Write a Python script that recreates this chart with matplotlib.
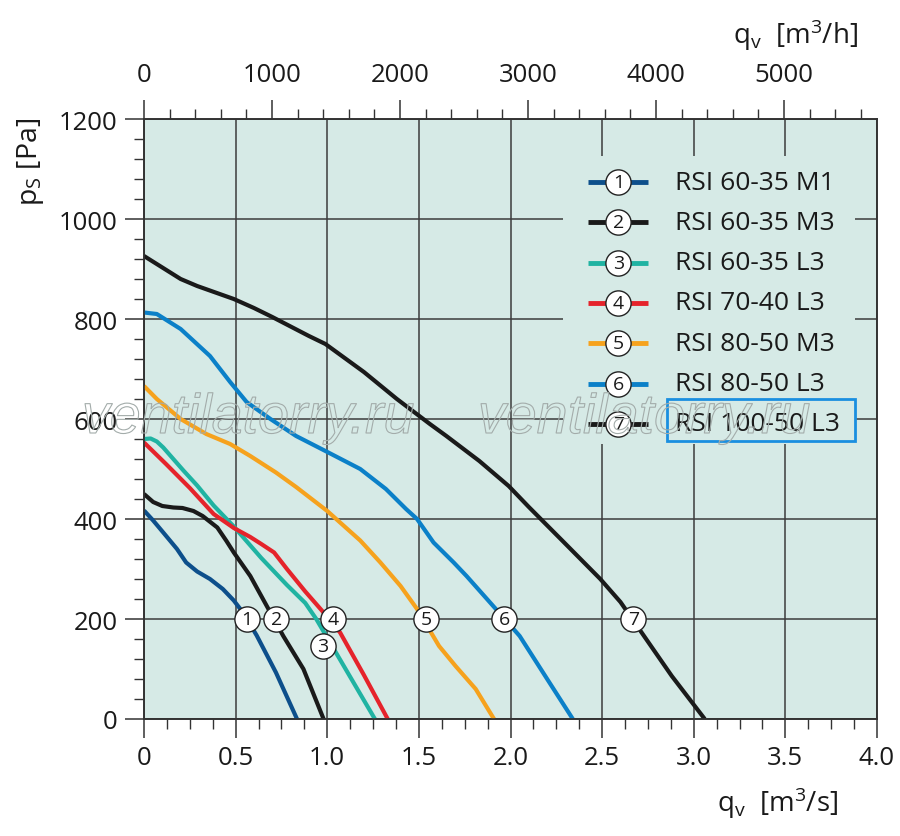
import matplotlib
matplotlib.use("Agg")
import matplotlib.pyplot as plt
import matplotlib.ticker as ticker
import matplotlib.patheffects as pe
from matplotlib.patches import Rectangle

plt.rcParams["font.family"] = ["Open Sans", "DejaVu Sans"]
plt.rcParams["mathtext.default"] = "regular"

# q_v [m3/s] -> p_s [Pa]
q1 = [0, 0.05, 0.105, 0.18, 0.23, 0.29, 0.36, 0.43, 0.49, 0.54, 0.615, 0.72, 0.835]
p1 = [417, 397, 373, 340, 313, 295, 280, 260, 237, 213, 167, 93, 0]

q2 = [0, 0.05, 0.10, 0.16, 0.21, 0.27, 0.32, 0.40, 0.45, 0.49, 0.58, 0.67, 0.76, 0.87, 0.98]
p2 = [450, 434, 426, 423, 422, 416, 406, 383, 356, 333, 286, 226, 166, 100, 0]

q3 = [0, 0.036, 0.07, 0.105, 0.16, 0.215, 0.29, 0.38, 0.49, 0.64, 0.78, 0.88, 0.94, 1.02, 1.10, 1.18, 1.26]
p3 = [560, 561, 555, 543, 520, 497, 467, 427, 385, 322, 268, 232, 200, 150, 100, 50, 0]

q4 = [0, 0.12, 0.25, 0.38, 0.49, 0.58, 0.64, 0.71, 0.78, 0.88, 0.98, 1.07, 1.20, 1.33]
p4 = [553, 510, 462, 410, 382, 364, 350, 333, 300, 255, 213, 173, 88, 0]

q5 = [0, 0.07, 0.20, 0.34, 0.47, 0.58, 0.72, 0.83, 1.00, 1.07, 1.18, 1.29, 1.40, 1.49, 1.61, 1.70, 1.81, 1.91]
p5 = [666, 640, 600, 570, 550, 526, 493, 464, 416, 393, 357, 313, 266, 220, 146, 106, 60, 0]

q6 = [0, 0.07, 0.20, 0.36, 0.47, 0.56, 0.69, 0.83, 0.99, 1.18, 1.32, 1.43, 1.49, 1.58, 1.69, 1.76, 1.92, 2.05, 2.20, 2.34]
p6 = [813, 810, 780, 726, 674, 634, 600, 566, 536, 500, 460, 420, 400, 353, 313, 286, 220, 166, 80, 0]

q7 = [0, 0.10, 0.20, 0.29, 0.49, 0.60, 0.70, 0.90, 0.99, 1.20, 1.38, 1.56, 1.65, 1.83, 1.99, 2.10,
      2.29, 2.49, 2.60, 2.74, 2.88, 3.06]
p7 = [926, 903, 880, 866, 840, 822, 804, 766, 750, 694, 640, 590, 566, 516, 466, 424,
      354, 280, 234, 160, 86, 0]

curves = [(q1, p1), (q2, p2), (q3, p3), (q4, p4), (q5, p5), (q6, p6), (q7, p7)]
names = ["RSI 60-35 M1", "RSI 60-35 M3", "RSI 60-35 L3", "RSI 70-40 L3",
         "RSI 80-50 M3", "RSI 80-50 L3", "RSI 100-50 L3"]
colors = ["#0d4f8b", "#1a1a1a", "#20b3a2", "#e5232b", "#f6a21d", "#0b80c8", "#1a1a1a"]

# numbered circles on the curves
label_q = [0.56, 0.723, 0.977, 1.032, 1.54, 1.967, 2.67]
label_p = [200, 200, 147, 200, 200, 200, 200]

x_ticks = [0, 0.5, 1.0, 1.5, 2.0, 2.5, 3.0, 3.5, 4.0]
y_ticks = [0, 200, 400, 600, 800, 1000, 1200]
top_ticks = [0, 1000, 2000, 3000, 4000, 5000]
top_per_sec = 1431.6  # m3/h per m3/s as the top scale is printed

BG = "#d6eae6"
GRID = "#3c3c3c"
AXC = "#333333"

fig = plt.figure(figsize=(9, 8.37), dpi=100)
ax = fig.add_axes([144 / 900, 1 - 720 / 837, 733 / 900, 600 / 837])
ax.set_facecolor(BG)
ax.set_xlim(0, 4.0)
ax.set_ylim(0, 1200)
ax.set_xticks(x_ticks)
ax.set_yticks(y_ticks)
ax.xaxis.set_minor_locator(ticker.MultipleLocator(0.125))
ax.yaxis.set_minor_locator(ticker.MultipleLocator(40))
ax.xaxis.set_major_formatter(ticker.FuncFormatter(lambda v, _: "0" if v == 0 else f"{v:.1f}"))
ax.grid(which="major", color=GRID, lw=1.1)
ax.set_axisbelow(True)
ax.tick_params(which="major", direction="out", length=14, width=1.1, color=AXC,
               labelsize=18.5, pad=5, labelcolor="#1a1a1a")
ax.tick_params(which="minor", direction="out", length=7.5, width=1.0, color=AXC)
for s in ax.spines.values():
    s.set_color(AXC)
    s.set_linewidth(1.2)

ax2 = ax.twiny()
ax2.set_xlim(0, 4.0 * top_per_sec)
ax2.set_xticks(top_ticks)
ax2.xaxis.set_minor_locator(ticker.MultipleLocator(200))
ax2.tick_params(which="major", direction="out", length=14, width=1.1, color=AXC,
                labelsize=18.5, pad=9, labelcolor="#1a1a1a")
ax2.tick_params(which="minor", direction="out", length=7.5, width=1.0, color=AXC)
for s in ax2.spines.values():
    s.set_color(AXC)
    s.set_linewidth(1.2)

for (q, p), c in zip(curves, colors):
    ax.plot(q, p, color=c, lw=3, solid_joinstyle="round", solid_capstyle="butt", zorder=3)

ax.scatter(label_q, label_p, s=330, facecolor="white", edgecolor="#222222", lw=1.0, zorder=6)
for i, (lq, lp) in enumerate(zip(label_q, label_p)):
    ax.text(lq, lp, str(i + 1), ha="center", va="center", fontsize=14, color="#1a1a1a", zorder=7)

# legend block (covers the grid like in the original)
ax.add_patch(Rectangle((0.572, 0.458), 0.398, 0.48, transform=ax.transAxes,
                       facecolor=BG, edgecolor="none", zorder=1))
leg_y0, leg_dy = 0.895, 0.0672
for i, (name, c) in enumerate(zip(names, colors)):
    y = leg_y0 - i * leg_dy
    ax.plot([0.606, 0.688], [y, y], transform=ax.transAxes, color=c, lw=3.5,
            solid_capstyle="butt", zorder=5)
    ax.scatter([0.647], [y], transform=ax.transAxes, s=330, facecolor="white",
               edgecolor="#222222", lw=1.0, zorder=6)
    ax.text(0.647, y, str(i + 1), transform=ax.transAxes, ha="center", va="center",
            fontsize=14, color="#1a1a1a", zorder=7)
    ax.text(0.724, y, name, transform=ax.transAxes, ha="left", va="center",
            fontsize=19, color="#1a1a1a", zorder=7)
ax.add_patch(Rectangle((0.7135, 0.463), 0.2565, 0.07, transform=ax.transAxes,
                       fill=False, edgecolor="#1a8fe0", lw=2, zorder=8))

# axis titles
fig.text(30 / 900, 1 - 118 / 837, r"p$_S$ [Pa]", rotation=90, ha="center", va="top",
         fontsize=20.5, color="#1a1a1a")
fig.text(838 / 900, 1 - 803 / 837, r"q$_v$  [m$^3$/s]", ha="right", va="center",
         fontsize=20, color="#1a1a1a")
fig.text(858 / 900, 1 - 35 / 837, r"q$_v$  [m$^3$/h]", ha="right", va="center",
         fontsize=20, color="#1a1a1a")

# watermark
for wx in (82, 478):
    fig.text(wx / 900, 1 - 434 / 837, "ventilatorry.ru", fontsize=40,
             family="Liberation Sans", style="italic", color="none", va="baseline",
             path_effects=[pe.Stroke(linewidth=0.8, foreground="#a3acaa")], zorder=10)

fig.savefig("out.png", dpi=100, facecolor="white")
